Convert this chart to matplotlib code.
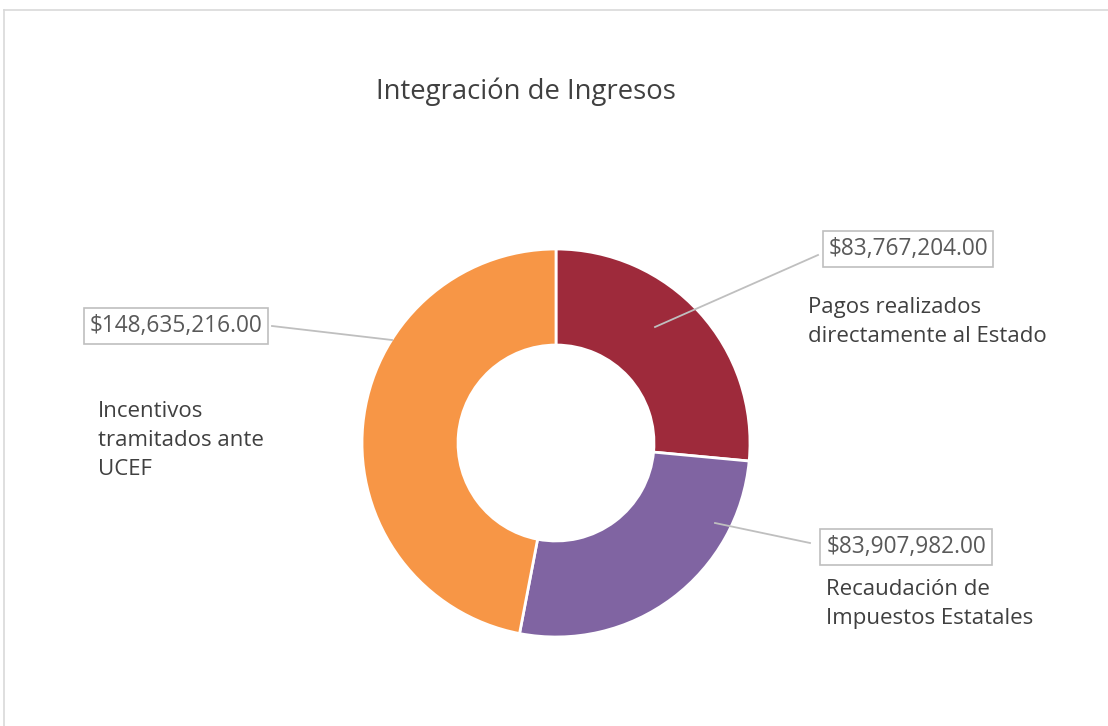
import matplotlib.pyplot as plt

plt.rcParams['font.family'] = ['Open Sans', 'DejaVu Sans']

title = "Integración de Ingresos"
categories = ["Pagos realizados\ndirectamente al Estado",
              "Recaudación de\nImpuestos Estatales",
              "Incentivos\ntramitados ante\nUCEF"]
values = [83767204.00, 83907982.00, 148635216.00]
colors = ["#9E2A3B", "#8064A2", "#F79646"]

W, H = 1108, 726
fig = plt.figure(figsize=(W / 100, H / 100), dpi=100)
ax = fig.add_axes([0, 0, 1, 1])

cx, cy, R = 556, H - 443, 194
wedges, _ = ax.pie(values, colors=colors, startangle=90, counterclock=False,
                   radius=R, center=(cx, cy), frame=True,
                   wedgeprops=dict(width=R * 0.495, edgecolor="white", linewidth=2))
ax.set_xlim(0, W)
ax.set_ylim(0, H)
ax.set_aspect('equal')
ax.axis('off')

# chart frame: only top and left edge are visible in the screenshot
ax.plot([4, W], [H - 10, H - 10], color="#D9D9D9", lw=1.2)
ax.plot([4, 4], [0, H - 10], color="#D9D9D9", lw=1.2)

ax.text(526, H - 92, title, ha='center', va='center', fontsize=19.8, color="#404040")

def fmt(v):
    return "${:,.2f}".format(v)

# label layout: (line start, line end, box center, category text left/top)
layout = [
    ((655, 327), (818, 255), (908, 249), (808, 297)),
    ((715, 523), (810, 543), (906, 547), (826, 579)),
    ((392, 340), (272, 326), (176, 326), (98, 401)),
]

for v, cat, (p0, p1, bc, tp) in zip(values, categories, layout):
    ax.plot([p0[0], p1[0]], [H - p0[1], H - p1[1]], color="#BFBFBF", lw=1.3, zorder=3)
    ax.text(bc[0], H - bc[1], fmt(v), ha='center', va='center', fontsize=16.3,
            color="#595959", zorder=4,
            bbox=dict(boxstyle='square,pad=0.25', facecolor='white',
                      edgecolor="#BFBFBF", lw=1.2))
    ax.text(tp[0], H - tp[1], cat, ha='left', va='top', fontsize=16,
            color="#404040", linespacing=1.5)

fig.savefig("out.png", dpi=100)
